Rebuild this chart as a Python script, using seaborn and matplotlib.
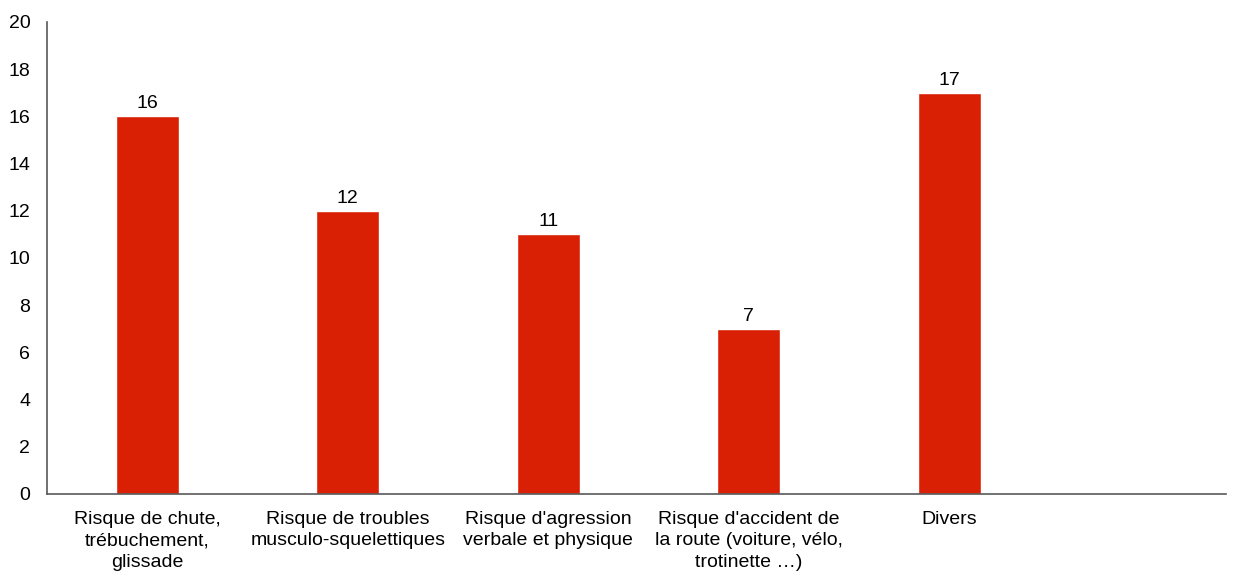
import pandas as pd
import seaborn as sb
import matplotlib
matplotlib.use('Agg')
import matplotlib.pyplot as plt

categories = ['Risque de chute,\ntrébuchement,\nglissade',
              'Risque de troubles\nmusculo-squelettiques',
              "Risque d'agression\nverbale et physique",
              "Risque d'accident de\nla route (voiture, vélo,\ntrotinette …)",
              'Divers']
values = [16, 12, 11, 7, 17]
yticks = [0, 2, 4, 6, 8, 10, 12, 14, 16, 18, 20]

df = pd.DataFrame({'cat': categories, 'val': values})

sb.set_style('white')
plt.rcParams['font.family'] = ['Liberation Sans', 'DejaVu Sans']

fig = plt.figure(figsize=(12.39, 5.72), dpi=100)
ax = fig.add_axes([47/1239, 1 - 494/572, (1226 - 47)/1239, (494 - 22)/572])

sb.barplot(data=df, x='cat', y='val', color='#D92005', saturation=1, width=0.315, ax=ax)
ax.bar_label(ax.containers[0], fontsize=14, padding=3, color='black')

ax.set_xlim(-0.5, 5.38)
ax.set_ylim(0, 20)
ax.set_yticks(yticks)
ax.set_xlabel('')
ax.set_ylabel('')
ax.tick_params(axis='both', length=0, labelsize=14, colors='black')
ax.tick_params(axis='x', pad=12)
ax.tick_params(axis='y', pad=12)
for s in ['top', 'right']:
    ax.spines[s].set_visible(False)
for s in ['left', 'bottom']:
    ax.spines[s].set_color('#595959')
    ax.spines[s].set_linewidth(1.2)
for lbl in ax.get_xticklabels():
    lbl.set_linespacing(1.35)

fig.savefig('out.png', dpi=100)
